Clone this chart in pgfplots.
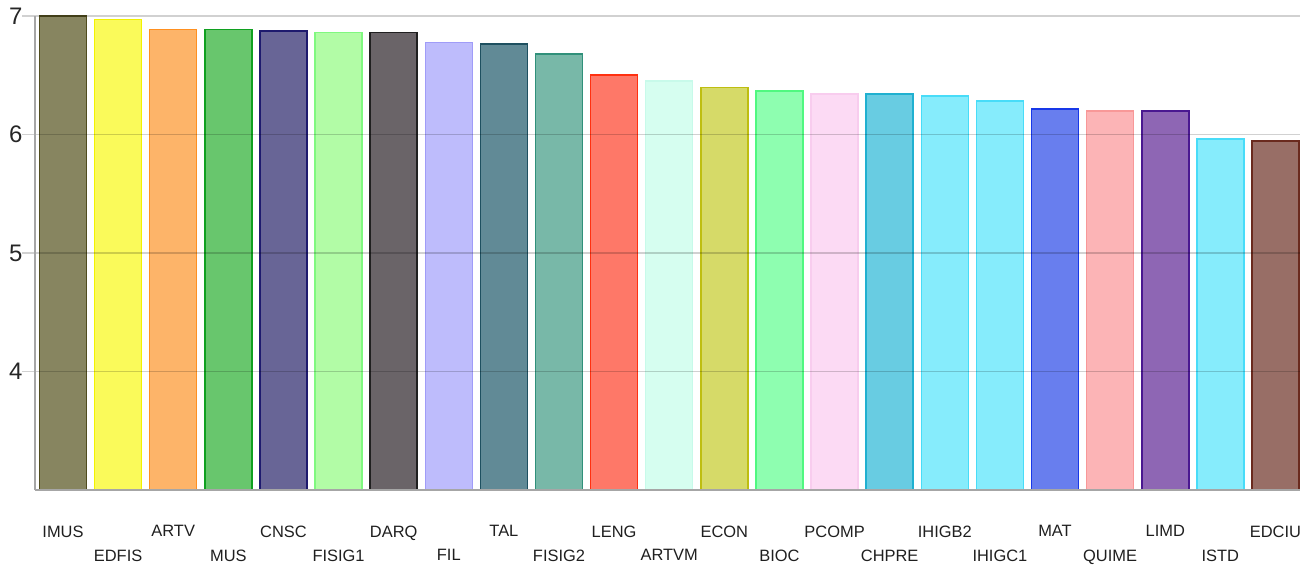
\documentclass[border=0pt]{standalone}
\usepackage{pgfplots}
\pgfplotsset{compat=1.18}
\usepackage{fontspec}
\setmainfont{Liberation Sans}
\definecolor{f1}{HTML}{878560}\definecolor{d1}{HTML}{504C1E}
\definecolor{f2}{HTML}{FAFA5A}\definecolor{d2}{HTML}{F2F200}
\definecolor{f3}{HTML}{FDB469}\definecolor{d3}{HTML}{FF9020}
\definecolor{f4}{HTML}{68C66D}\definecolor{d4}{HTML}{10A020}
\definecolor{f5}{HTML}{686596}\definecolor{d5}{HTML}{1E1A6E}
\definecolor{f6}{HTML}{B2FCA6}\definecolor{d6}{HTML}{80F880}
\definecolor{f7}{HTML}{6A6468}\definecolor{d7}{HTML}{202020}
\definecolor{f8}{HTML}{BEBCFC}\definecolor{d8}{HTML}{A09CF8}
\definecolor{f9}{HTML}{618A96}\definecolor{d9}{HTML}{1E5060}
\definecolor{f10}{HTML}{78B8A8}\definecolor{d10}{HTML}{30907A}
\definecolor{f11}{HTML}{FE7868}\definecolor{d11}{HTML}{FF3010}
\definecolor{f12}{HTML}{D6FEF0}\definecolor{d12}{HTML}{C8FAEA}
\definecolor{f13}{HTML}{D6DA68}\definecolor{d13}{HTML}{BEBE10}
\definecolor{f14}{HTML}{8EFEB0}\definecolor{d14}{HTML}{50F880}
\definecolor{f15}{HTML}{FCDAF4}\definecolor{d15}{HTML}{F8CCEE}
\definecolor{f16}{HTML}{68CCE2}\definecolor{d16}{HTML}{20B0D0}
\definecolor{f17}{HTML}{86ECFC}\definecolor{d17}{HTML}{48DCF8}
\definecolor{f19}{HTML}{687EEE}\definecolor{d19}{HTML}{1838E8}
\definecolor{f20}{HTML}{FCB4B6}\definecolor{d20}{HTML}{F89898}
\definecolor{f21}{HTML}{8E66B4}\definecolor{d21}{HTML}{4A1890}
\definecolor{f23}{HTML}{986E66}\definecolor{d23}{HTML}{6A2A1E}
\begin{document}
\begin{tikzpicture}
\useasboundingbox (-35bp,-76bp) rectangle (1274bp,490bp);
\begin{axis}[
  at={(0,0)}, anchor=south west,
  scale only axis, width=1265bp, height=474bp,
  xmin=-0.508, xmax=22.445, ymin=3, ymax=7,
  ybar, bar width=47bp, bar shift=0pt,
  axis lines=left, axis line style={-, draw=black!35, line width=1.3bp},
  axis on top,
  ytick={4,5,6,7},
  ymajorgrids, grid style={black, opacity=0.18, line width=1.3bp},
  ytick style={draw=black, opacity=0.18, line width=1.3bp},
  major tick length=13bp, tick align=outside,
  yticklabel style={font=\fontsize{24}{24}\selectfont, text=black!85, xshift=4bp},
  xtick={0,2,...,22},
  xticklabels={IMUS,ARTV,CNSC,DARQ,TAL,LENG,ECON,PCOMP,IHIGB2,MAT,LIMD,EDCIU},
  extra x ticks={1,3,...,21},
  extra x tick labels={EDFIS,MUS,FISIG1,FIL,FISIG2,ARTVM,BIOC,CHPRE,IHIGC1,QUIME,ISTD},
  extra x tick style={xticklabel style={yshift=-24bp}},
  xtick style={draw=none},
  xticklabel style={font=\fontsize{16.5}{16.5}\selectfont, anchor=north, yshift=-19bp, text=black!88},
  /pgf/number format/assume math mode=true,
  every axis plot/.append style={line width=1.5bp},
]
\addplot[fill=f1, draw=d1] coordinates {(0,7.0)};
\addplot[fill=f2, draw=d2] coordinates {(1,6.969)};
\addplot[fill=f3, draw=d3] coordinates {(2,6.885)};
\addplot[fill=f4, draw=d4] coordinates {(3,6.885)};
\addplot[fill=f5, draw=d5] coordinates {(4,6.873)};
\addplot[fill=f6, draw=d6] coordinates {(5,6.862)};
\addplot[fill=f7, draw=d7] coordinates {(6,6.86)};
\addplot[fill=f8, draw=d8] coordinates {(7,6.775)};
\addplot[fill=f9, draw=d9] coordinates {(8,6.762)};
\addplot[fill=f10, draw=d10] coordinates {(9,6.678)};
\addplot[fill=f11, draw=d11] coordinates {(10,6.50)};
\addplot[fill=f12, draw=d12] coordinates {(11,6.452)};
\addplot[fill=f13, draw=d13] coordinates {(12,6.396)};
\addplot[fill=f14, draw=d14] coordinates {(13,6.368)};
\addplot[fill=f15, draw=d15] coordinates {(14,6.34)};
\addplot[fill=f16, draw=d16] coordinates {(15,6.34)};
\addplot[fill=f17, draw=d17] coordinates {(16,6.326)};
\addplot[fill=f17, draw=d17] coordinates {(17,6.284)};
\addplot[fill=f19, draw=d19] coordinates {(18,6.214)};
\addplot[fill=f20, draw=d20] coordinates {(19,6.20)};
\addplot[fill=f21, draw=d21] coordinates {(20,6.20)};
\addplot[fill=f17, draw=d17] coordinates {(21,5.961)};
\addplot[fill=f23, draw=d23] coordinates {(22,5.947)};
\end{axis}
\end{tikzpicture}
\end{document}
